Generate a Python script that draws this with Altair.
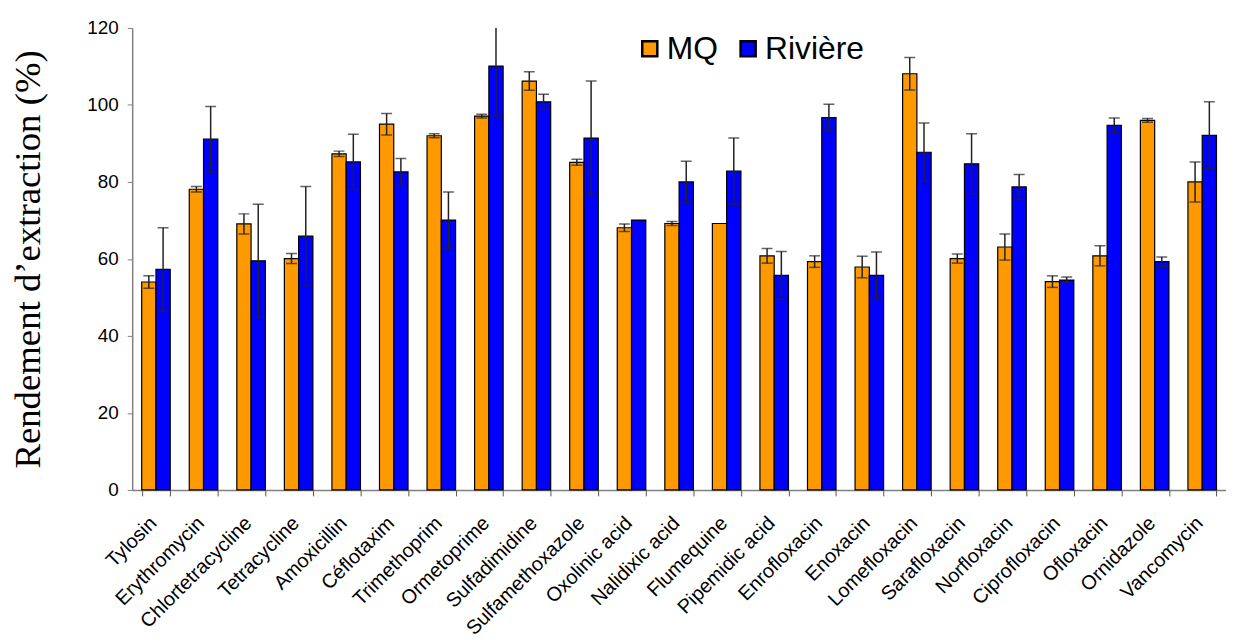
import altair as alt
import pandas as pd

drugs = ["Tylosin", "Erythromycin", "Chlortetracycline", "Tetracycline", "Amoxicillin",
         "Céflotaxim", "Trimethoprim", "Ormetoprime", "Sulfadimidine", "Sulfamethoxazole",
         "Oxolinic acid", "Nalidixic acid", "Flumequine", "Pipemidic acid", "Enrofloxacin",
         "Enoxacin", "Lomefloxacin", "Sarafloxacin", "Norfloxacin", "Ciprofloxacin",
         "Ofloxacin", "Ornidazole", "Vancomycin"]
mq = [54.0, 78.1, 69.1, 60.1, 87.3, 95.0, 92.0, 97.1, 106.2, 85.1, 68.1, 69.2, 69.2,
      60.8, 59.3, 57.9, 108.1, 60.1, 63.1, 54.1, 60.8, 96.0, 80.0]
mq_err = [1.6, 0.7, 2.6, 1.3, 0.7, 2.8, 0.5, 0.5, 2.4, 0.8, 1.0, 0.5, 0.0,
          1.9, 1.5, 2.8, 4.2, 1.2, 3.4, 1.5, 2.6, 0.5, 5.2]
riv = [57.3, 91.1, 59.5, 65.9, 85.2, 82.6, 70.1, 110.1, 100.8, 91.4, 70.1, 80.0, 82.8,
       55.7, 96.7, 55.7, 87.7, 84.7, 78.7, 54.5, 94.7, 59.3, 92.1]
riv_err = [10.8, 8.5, 14.7, 12.9, 7.2, 3.5, 7.3, 13.0, 2.0, 14.8, 0.0, 5.4, 8.6,
           6.2, 3.5, 6.1, 7.6, 7.8, 3.2, 0.8, 1.9, 1.2, 8.7]
series = ["MQ", "Rivière"]
colors = ["#FF9900", "#0000FF"]

rows = []
for i, d in enumerate(drugs):
    rows.append({"drug": d, "serie": "MQ", "v": mq[i], "err": mq_err[i]})
    rows.append({"drug": d, "serie": "Rivière", "v": riv[i], "err": riv_err[i]})
df = pd.DataFrame(rows)
df["lo"] = df["v"] - df["err"]
df["hi"] = df["v"] + df["err"]

SANS = "Liberation Sans"

x = alt.X("drug:N", sort=drugs, title=None,
          scale=alt.Scale(paddingInner=0.4, paddingOuter=0.2),
          axis=alt.Axis(labelAngle=-45, labelFont=SANS, labelFontSize=20, labelColor="black",
                        labelAlign="right", labelBaseline="top", labelPadding=17,
                        labelOffset=-10, labelLimit=400, labelOverlap=False,
                        tickBand="extent", tickSize=6, tickColor="#555555",
                        domainColor="#808080", domainWidth=1.5))
xo = alt.XOffset("serie:N", sort=series)
yscale = alt.Scale(domain=[0, 120])

base = alt.Chart(df)

bars = base.mark_bar(stroke="black", strokeWidth=1.2).encode(
    x=x, xOffset=xo,
    y=alt.Y("v:Q", scale=yscale, title="Rendement d’extraction (%)",
            axis=alt.Axis(values=[0, 20, 40, 60, 80, 100, 120], labelFont=SANS, labelFontSize=19,
                          labelColor="black", tickSize=5, tickColor="#808080", labelPadding=9,
                          domainColor="#808080", domainWidth=1.5, grid=False,
                          titleFont="Liberation Serif", titleFontSize=37, titleFontWeight="normal",
                          titleColor="black", titlePadding=40)),
    color=alt.Color("serie:N", sort=series, scale=alt.Scale(domain=series, range=colors),
                    legend=alt.Legend(title=None, orient="none", legendX=505, legendY=5,
                                      direction="horizontal", symbolType="square",
                                      symbolSize=230, symbolStrokeColor="black",
                                      symbolStrokeWidth=2.5, symbolOpacity=1,
                                      labelFont=SANS, labelFontSize=32, labelColor="black",
                                      labelOffset=1, columnPadding=14, padding=0))
)

eb = base.transform_filter(alt.datum.err > 0)
rules = eb.mark_rule(color="#222222", strokeWidth=1.5, clip=True).encode(
    x=x, xOffset=xo, y=alt.Y("lo:Q", scale=yscale), y2="hi:Q")
caps_hi = eb.mark_tick(color="#222222", thickness=1.5, size=11, clip=True).encode(
    x=x, xOffset=xo, y=alt.Y("hi:Q", scale=yscale))
caps_lo = eb.mark_tick(color="#222222", thickness=1.5, size=11, clip=True).encode(
    x=x, xOffset=xo, y=alt.Y("lo:Q", scale=yscale))

chart = alt.layer(bars, rules, caps_hi, caps_lo).properties(
    width=1101, height=465,
    autosize=alt.AutoSizeParams(type="none"),
    padding={"left": 125, "top": 18, "right": 0, "bottom": 145},
).configure_view(stroke=None).configure_axis(grid=False)

chart.save("out.html", embed_options={"renderer": "svg", "actions": False})
